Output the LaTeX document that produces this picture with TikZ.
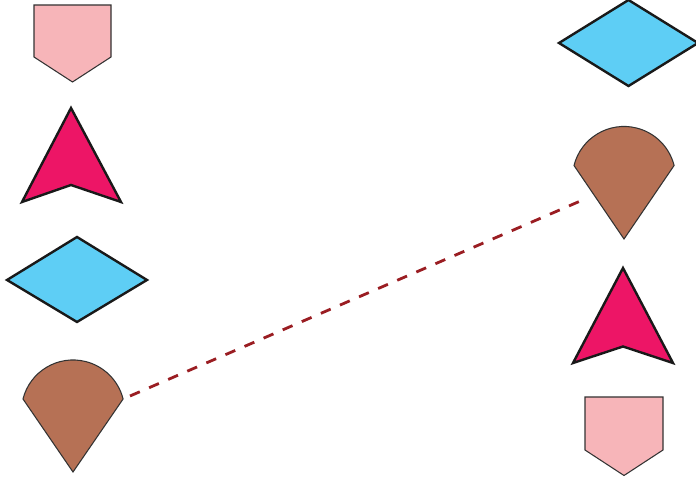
\documentclass[tikz,border=0pt]{standalone}
\usepackage{xcolor}
\usepackage{tikz}
\usetikzlibrary{positioning, calc}

\definecolor{pentpink}{HTML}{F7B5B9}
\definecolor{arrowred}{HTML}{ED1566}
\definecolor{diamblue}{HTML}{5ECEF5}
\definecolor{conebrown}{HTML}{B67155}
\definecolor{linkred}{HTML}{9A1D22}

\begin{document}
\begin{tikzpicture}[x=0.75pt, y=0.75pt,
    thinshape/.style={draw=black!80, line width=0.8pt},
    thickshape/.style={draw=black!90, line width=1.8pt},
    link/.style={draw=linkred, line width=2.1pt, dash pattern=on 8pt off 7.6pt}]
      \useasboundingbox (0, 0) rectangle (696, 478);
      \clip (0, 0) rectangle (696, 478);

      % left column
      \draw[thinshape, fill=pentpink] (34, 473) -- (111, 473) -- (111, 421) -- (72.5, 396) -- (34, 421) -- cycle;
      \draw[thickshape, fill=arrowred] (71, 370) -- (121, 276) -- (71, 293) -- (22, 276) -- cycle;
      \draw[thickshape, fill=diamblue] (7, 198) -- (77, 241) -- (147, 198) -- (77, 156) -- cycle;
      \draw[thinshape, fill=conebrown] (73, 6) -- (23, 79) arc[start angle=165.9, end angle=14.1, radius=51.6] -- cycle;

      % right column
      \draw[thickshape, fill=diamblue] (559, 435) -- (628.5, 478) -- (698, 435) -- (628.5, 392) -- cycle;
      \draw[thinshape, fill=conebrown] (624, 239) -- (574, 312.5) arc[start angle=165.9, end angle=14.1, radius=51.6] -- cycle;
      \draw[thickshape, fill=arrowred] (623, 210) -- (673, 115) -- (623, 131.5) -- (573, 115) -- cycle;
      \draw[thinshape, fill=pentpink] (585, 81) -- (663, 81) -- (663, 28) -- (624, 2.5) -- (585, 28) -- cycle;

      % dashed link between the cones
      \coordinate (coneleft) at (130, 82);
      \coordinate (coneright) at (585, 279);
      \draw[link] (coneleft) -- (coneright);
    \end{tikzpicture}
\end{document}
